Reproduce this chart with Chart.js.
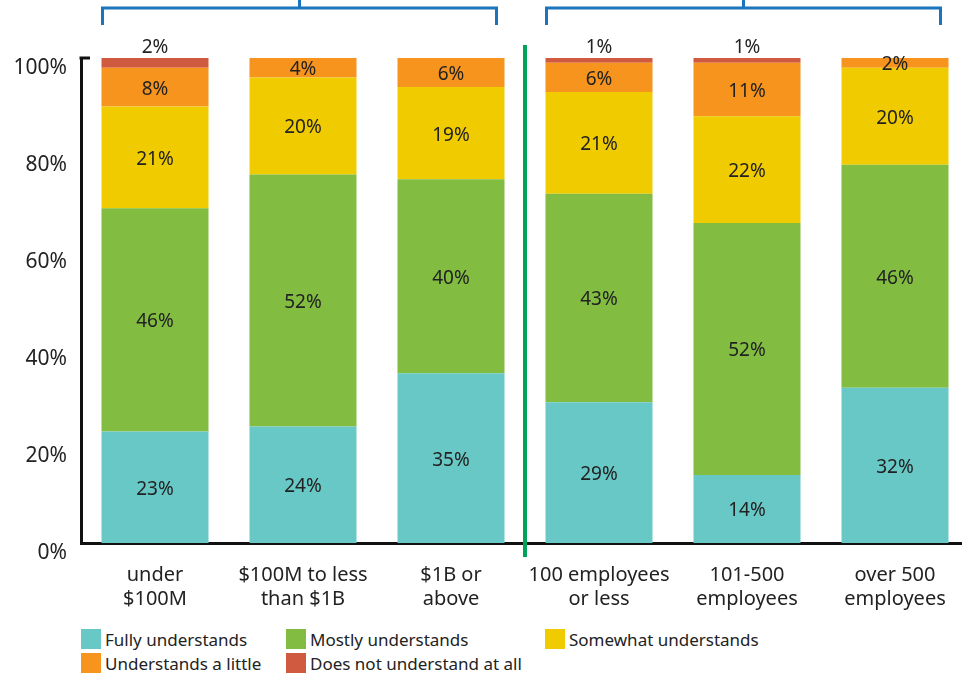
<!DOCTYPE html>
<html>
<head>
  <meta charset="utf-8">
  <title>Understanding by company size</title>
  <script src="https://cdn.jsdelivr.net/npm/chart.js@4"></script>
  <style>
    body { margin: 0; background: #fff; overflow: hidden; font-family: "Noto Sans", sans-serif; color: #222; }
    .wrap { position: absolute; left: 0; top: 0; width: 970px; height: 620px; }
    .legend { position: absolute; left: 81px; top: 629px; display: grid; grid-template-columns: 205px 259px 230px; row-gap: 4px; }
    .legend .item { display: flex; align-items: center; font-size: 17px; height: 20px; white-space: nowrap; }
    .legend .sw { width: 20px; height: 20px; margin-right: 4px; flex: none; }
  </style>
</head>
<body>
  <div class="wrap"><canvas id="chart"></canvas></div>
  <div class="legend" id="legend"></div>

  <script>
    const categories = [
      ["under", "$100M"],
      ["$100M to less", "than $1B"],
      ["$1B or", "above"],
      ["100 employees", "or less"],
      ["101-500", "employees"],
      ["over 500", "employees"]
    ];
    const seriesNames = ["Fully understands", "Mostly understands", "Somewhat understands", "Understands a little", "Does not understand at all"];
    const fully = [23, 24, 35, 29, 14, 32];
    const mostly = [46, 52, 40, 43, 52, 46];
    const somewhat = [21, 20, 19, 21, 22, 20];
    const little = [8, 4, 6, 6, 11, 2];
    const notAtAll = [2, 0, 0, 1, 1, 0];
    const yTicks = [0, 20, 40, 60, 80, 100];
    const colors = ["#68c8c6", "#82bc41", "#f0cb00", "#f7941e", "#d05a40"];

    const FONT = '"Noto Sans", sans-serif';
    const series = [fully, mostly, somewhat, little, notAtAll];

    // legend in 3 columns, like the original
    const legendEl = document.getElementById("legend");
    seriesNames.forEach((name, i) => {
      const d = document.createElement("div");
      d.className = "item";
      d.innerHTML = `<span class="sw" style="background:${colors[i]}"></span>${name}`;
      legendEl.appendChild(d);
    });

    // value labels inside segments (tiny top segment goes above the bar)
    const segLabels = {
      id: "segLabels",
      afterDatasetsDraw(chart) {
        const ctx = chart.ctx;
        ctx.save();
        ctx.font = `19px ${FONT}`;
        ctx.fillStyle = "#222";
        ctx.textAlign = "center";
        ctx.textBaseline = "middle";
        chart.data.datasets.forEach((ds, di) => {
          const meta = chart.getDatasetMeta(di);
          meta.data.forEach((bar, i) => {
            const v = ds.data[i];
            if (!v) return;
            let y = (bar.y + bar.base) / 2 + 2;
            if (di === 4) y = bar.y - 10;
            ctx.fillText(v + "%", bar.x, y);
          });
        });
        ctx.restore();
      }
    };

    // brackets at top, group divider, tick at 100%
    const decor = {
      id: "decor",
      afterDraw(chart) {
        const ctx = chart.ctx;
        const x = chart.scales.x, y = chart.scales.y;
        const area = chart.chartArea;
        const step = x.getPixelForValue(1) - x.getPixelForValue(0);
        const bw = step * 0.723 / 2;
        ctx.save();

        // short tick at 100%
        ctx.strokeStyle = "#111";
        ctx.lineWidth = 3;
        ctx.beginPath();
        ctx.moveTo(area.left - 1.5, y.getPixelForValue(100));
        ctx.lineTo(area.left + 9, y.getPixelForValue(100));
        ctx.stroke();

        // divider between groups
        const dx = (x.getPixelForValue(2) + x.getPixelForValue(3)) / 2;
        ctx.strokeStyle = "#00a35a";
        ctx.lineWidth = 4;
        ctx.beginPath();
        ctx.moveTo(dx, 45);
        ctx.lineTo(dx, area.bottom + 14);
        ctx.stroke();

        // brackets
        ctx.strokeStyle = "#1b75bc";
        ctx.lineWidth = 3;
        [[0, 2], [3, 5]].forEach(([a, b]) => {
          const l = x.getPixelForValue(a) - bw + 1;
          const r = x.getPixelForValue(b) + bw - 8;
          const m = (l + r) / 2;
          ctx.beginPath();
          ctx.moveTo(l, 25);
          ctx.lineTo(l, 8);
          ctx.lineTo(r, 8);
          ctx.lineTo(r, 25);
          ctx.moveTo(m, 8);
          ctx.lineTo(m, 0);
          ctx.stroke();
        });
        ctx.restore();
      }
    };

    new Chart(document.getElementById("chart"), {
      type: "bar",
      data: {
        labels: categories,
        datasets: series.map((d, i) => ({
          label: seriesNames[i],
          data: d,
          backgroundColor: colors[i],
          borderWidth: 0,
          barPercentage: 0.723,
          categoryPercentage: 1
        }))
      },
      options: {
        responsive: true,
        maintainAspectRatio: false,
        animation: false,
        layout: { padding: { top: 58, right: 1, left: 0, bottom: 0 } },
        plugins: { legend: { display: false }, tooltip: { enabled: false } },
        scales: {
          x: {
            stacked: true,
            grid: { display: false, drawTicks: false },
            border: { display: true, color: "#111", width: 3 },
            ticks: { color: "#222", font: { family: FONT, size: 20, lineHeight: 1.2 }, padding: 20, maxRotation: 0, autoSkip: false },
            afterFit(s) { s.height = 77; }
          },
          y: {
            stacked: true,
            min: 0,
            max: 100,
            afterBuildTicks(s) { s.ticks = yTicks.map(v => ({ value: v })); },
            grid: { display: false, drawTicks: false },
            border: { display: true, color: "#111", width: 3 },
            ticks: { color: "#222", font: { family: FONT, size: 21 }, padding: 14, labelOffset: 10, callback: v => v + "%" },
            afterFit(s) { s.width = 81; }
          }
        }
      },
      plugins: [segLabels, decor]
    });
  </script>
</body>
</html>
